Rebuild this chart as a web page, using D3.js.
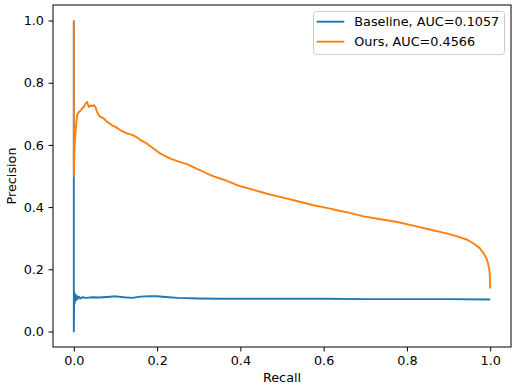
<!DOCTYPE html>
<html>
<head>
<meta charset="utf-8">
<script src="https://cdn.jsdelivr.net/npm/d3@7"></script>
<style>
  html, body { margin: 0; padding: 0; background: #fff; }
  svg { display: block; font-family: "DejaVu Sans", sans-serif; }
</style>
</head>
<body>
<svg id="chart" width="518" height="388"></svg>
<script>
// ---- data ----
const seriesNames = ["Baseline, AUC=0.1057", "Ours, AUC=0.4566"];
const seriesColors = ["#1f77b4", "#ff7f0e"];

const baselineRecall = [0, 0, 0, 0.001, 0.002, 0.003, 0.005, 0.007, 0.009, 0.012, 0.016, 0.02, 0.03, 0.045, 0.06, 0.08, 0.1, 0.12, 0.14, 0.16, 0.18, 0.2, 0.22, 0.25, 0.3, 0.35, 0.4, 0.45, 0.5, 0.6, 0.7, 0.8, 0.9, 1.0];
const baselinePrecision = [1.0, 0.5, 0.0, 0.127, 0.09, 0.12, 0.1, 0.115, 0.104, 0.112, 0.106, 0.11, 0.108, 0.11, 0.109, 0.111, 0.113, 0.11, 0.108, 0.112, 0.113, 0.113, 0.111, 0.108, 0.106, 0.105, 0.105, 0.105, 0.105, 0.105, 0.104, 0.104, 0.104, 0.103];

const oursRecall = [0, 0, 0.001, 0.002, 0.004, 0.006, 0.008, 0.012, 0.016, 0.02, 0.024, 0.028, 0.032, 0.036, 0.04, 0.044, 0.048, 0.052, 0.056, 0.06, 0.064, 0.072, 0.08, 0.092, 0.1, 0.112, 0.128, 0.14, 0.152, 0.165, 0.176, 0.192, 0.208, 0.232, 0.252, 0.272, 0.296, 0.32, 0.336, 0.36, 0.4, 0.43, 0.464, 0.5, 0.528, 0.576, 0.616, 0.632, 0.66, 0.696, 0.74, 0.777, 0.82, 0.857, 0.89, 0.921, 0.945, 0.961, 0.975, 0.985, 0.991, 0.994, 0.997, 0.999, 1.0];
const oursPrecision = [1.0, 0.5, 0.56, 0.6, 0.637, 0.67, 0.696, 0.706, 0.71, 0.717, 0.722, 0.733, 0.738, 0.722, 0.727, 0.724, 0.728, 0.722, 0.705, 0.696, 0.69, 0.685, 0.674, 0.663, 0.658, 0.647, 0.637, 0.632, 0.624, 0.612, 0.604, 0.588, 0.572, 0.556, 0.546, 0.538, 0.523, 0.508, 0.499, 0.488, 0.467, 0.456, 0.443, 0.431, 0.422, 0.406, 0.395, 0.39, 0.382, 0.37, 0.36, 0.352, 0.339, 0.327, 0.317, 0.306, 0.295, 0.282, 0.268, 0.25, 0.235, 0.223, 0.205, 0.186, 0.138];

const xTicks = [0.0, 0.2, 0.4, 0.6, 0.8, 1.0];
const yTicks = [0.0, 0.2, 0.4, 0.6, 0.8, 1.0];
const xLabel = "Recall";
const yLabel = "Precision";

// ---- layout ----
const svg = d3.select("#chart");
const L = 53, R = 511, T = 5, B = 347;
const fs = 12.8;

const x = d3.scaleLinear().domain([-0.05, 1.05]).range([L, R]);
const y = d3.scaleLinear().domain([-0.05, 1.05]).range([B, T]);

svg.append("defs").append("clipPath").attr("id", "clip")
  .append("rect").attr("x", L).attr("y", T).attr("width", R - L).attr("height", B - T);

const series = [
  { name: seriesNames[0], color: seriesColors[0], pts: baselineRecall.map((r, i) => [r, baselinePrecision[i]]) },
  { name: seriesNames[1], color: seriesColors[1], pts: oursRecall.map((r, i) => [r, oursPrecision[i]]) }
];

const line = d3.line().x(d => x(d[0])).y(d => y(d[1]));

const g = svg.append("g").attr("clip-path", "url(#clip)");
series.forEach(s => {
  g.append("path").datum(s.pts)
    .attr("d", line)
    .attr("fill", "none")
    .attr("stroke", s.color)
    .attr("stroke-width", 1.9)
    .attr("stroke-linejoin", "round")
    .attr("stroke-linecap", "butt");
});

// axes
const fmt = d3.format(".1f");
const xAxis = svg.append("g").attr("transform", `translate(0,${B})`)
  .call(d3.axisBottom(x).tickValues(xTicks).tickFormat(fmt).tickSize(4.5).tickPadding(4.5).tickSizeOuter(0));
const yAxis = svg.append("g").attr("transform", `translate(${L},0)`)
  .call(d3.axisLeft(y).tickValues(yTicks).tickFormat(fmt).tickSize(4.5).tickPadding(4.5).tickSizeOuter(0));
[xAxis, yAxis].forEach(a => {
  a.select(".domain").remove();
  a.selectAll("text").attr("font-size", fs).attr("font-family", "DejaVu Sans").attr("fill", "#000");
  a.selectAll("line").attr("stroke", "#000").attr("stroke-width", 1);
});

// frame
svg.append("rect").attr("x", L).attr("y", T).attr("width", R - L).attr("height", B - T)
  .attr("fill", "none").attr("stroke", "#000").attr("stroke-width", 1);

// labels
svg.append("text").attr("x", (L + R) / 2).attr("y", 381.5)
  .attr("text-anchor", "middle").attr("font-size", fs).attr("fill", "#000").text(xLabel);
svg.append("text").attr("transform", `translate(16,${(T + B) / 2}) rotate(-90)`)
  .attr("text-anchor", "middle").attr("font-size", fs).attr("fill", "#000").text(yLabel);

// legend
const lg = svg.append("g");
lg.append("rect").attr("x", 313.5).attr("y", 11.5).attr("width", 191).attr("height", 43).attr("rx", 3)
  .attr("fill", "#fff").attr("fill-opacity", 0.8).attr("stroke", "#cccccc").attr("stroke-width", 1);
series.forEach((s, i) => {
  const cy = 21.7 + i * 20;
  lg.append("line").attr("x1", 316.7).attr("x2", 344.3).attr("y1", cy).attr("y2", cy)
    .attr("stroke", s.color).attr("stroke-width", 1.9);
  lg.append("text").attr("x", 354.3).attr("y", cy + 4.6).attr("font-size", fs).attr("fill", "#000").text(s.name);
});
</script>
</body>
</html>
